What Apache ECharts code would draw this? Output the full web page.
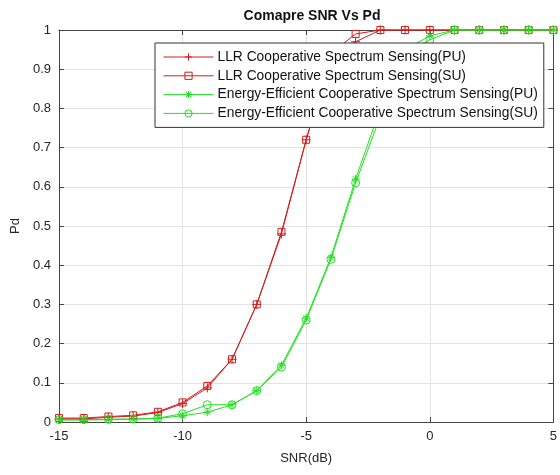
<!DOCTYPE html>
<html><head><meta charset="utf-8">
<script src="https://cdn.jsdelivr.net/npm/echarts@6/dist/echarts.min.js"></script>
<style>html,body{margin:0;padding:0;background:#fff}#c{width:560px;height:475px}</style>
</head><body><div id="c"></div>
<script>
const snr = [-15,-14,-13,-12,-11,-10,-9,-8,-7,-6,-5,-4,-3,-2,-1,0,1,2,3,4,5];
const llrPU = [0.008,0.008,0.012,0.015,0.024,0.047,0.087,0.16,0.30,0.48,0.72,0.93,0.97,1,1,1,1,1,1,1,1];
const llrSU = [0.01,0.01,0.014,0.017,0.026,0.05,0.092,0.16,0.30,0.485,0.72,0.94,0.99,1,1,1,1,1,1,1,1];
const eePU = [0.005,0.005,0.006,0.007,0.009,0.016,0.025,0.044,0.08,0.145,0.265,0.42,0.62,0.80,0.95,0.985,1,1,1,1,1];
const eeSU = [0.006,0.006,0.007,0.008,0.01,0.021,0.044,0.044,0.08,0.14,0.26,0.415,0.61,0.78,0.94,0.975,1,1,1,1,1];
const names = ['LLR Cooperative Spectrum Sensing(PU)','LLR Cooperative Spectrum Sensing(SU)','Energy-Efficient Cooperative Spectrum Sensing(PU)','Energy-Efficient Cooperative Spectrum Sensing(SU)'];
const xTicks = [-15,-10,-5,0,5];
const yTicks = [0,0.1,0.2,0.3,0.4,0.5,0.6,0.7,0.8,0.9,1];

const RED = '#d41c1c', GREEN = '#22e022';
const plus = 'path://M5,0V10M0,5H10';
const star = 'path://M5,0V10M0,5H10M1.5,1.5L8.5,8.5M1.5,8.5L8.5,1.5';
function pairs(v){ return snr.map((x,i)=>[x,v[i]]); }
function mk(name, data, color, symbol, size){
  return {name, type:'line', data:pairs(data), symbol, symbolSize:size, clip:false,
    lineStyle:{color, width:1}, itemStyle:{color:'none', borderColor:color, borderWidth:1},
    emphasis:{disabled:true}, animation:false, z: 3};
}
const axisCommon = {
  axisLine:{show:true, onZero:false, lineStyle:{color:'#444', width:1}},
  axisTick:{show:true, inside:true, length:5, lineStyle:{color:'#444'}},
};
const chart = echarts.init(document.getElementById('c'), null, {renderer:'canvas'});
chart.setOption({
  animation:false,
  title:{text:'Comapre SNR Vs Pd', left:307, textAlign:'center', top:4,
    textStyle:{fontFamily:'Liberation Sans, Arial', fontWeight:'bold', fontSize:14, color:'#111'}},
  grid:{left:59, right:4, top:30, bottom:53},
  xAxis:[
    Object.assign({type:'value', min:-15, max:5, interval:5, position:'bottom',
      name:'SNR(dB)', nameLocation:'middle', nameGap:30,
      nameTextStyle:{fontFamily:'Liberation Sans, Arial', fontSize:13, color:'#262626'},
      axisLabel:{fontFamily:'Liberation Sans, Arial', fontSize:13, color:'#262626', margin:8,
        formatter:v=>xTicks.includes(v)?String(v):''},
      splitLine:{show:true, lineStyle:{color:'#e3e3e3', width:1}}}, axisCommon),
    Object.assign({type:'value', min:-15, max:5, interval:5, position:'top',
      axisLabel:{show:false}, splitLine:{show:false}}, axisCommon)
  ],
  yAxis:[
    Object.assign({type:'value', min:0, max:1, interval:0.1, position:'left',
      name:'Pd', nameLocation:'middle', nameGap:32,
      nameTextStyle:{fontFamily:'Liberation Sans, Arial', fontSize:13, color:'#262626'},
      axisLabel:{fontFamily:'Liberation Sans, Arial', fontSize:13, color:'#262626', margin:8,
        formatter:v=>{const t=yTicks.find(y=>Math.abs(y-v)<1e-9); return t===undefined?'':String(+t.toFixed(1));}},
      splitLine:{show:true, lineStyle:{color:'#e3e3e3', width:1}}}, axisCommon),
    Object.assign({type:'value', min:0, max:1, interval:0.1, position:'right',
      axisLabel:{show:false}, splitLine:{show:false}}, axisCommon)
  ],
  legend:{orient:'vertical', left:155, top:43, width:388,
    backgroundColor:'#fff', borderColor:'#333', borderWidth:1, borderRadius:0,
    padding:[7,6,7,8], itemGap:4.8, itemWidth:50, itemHeight:9,
    lineStyle:{width:1}, itemStyle:{borderWidth:1},
    textStyle:{fontFamily:'Liberation Sans, Arial', fontSize:13.8, lineHeight:14, color:'#111', padding:[0,0,0,-1]},
    data:names, selectedMode:false, z:10},
  series:[
    mk(names[0], llrPU, RED, plus, 9),
    mk(names[1], llrSU, RED, 'rect', 7),
    mk(names[2], eePU, GREEN, star, 8),
    mk(names[3], eeSU, GREEN, 'circle', 8)
  ]
});
</script></body></html>
